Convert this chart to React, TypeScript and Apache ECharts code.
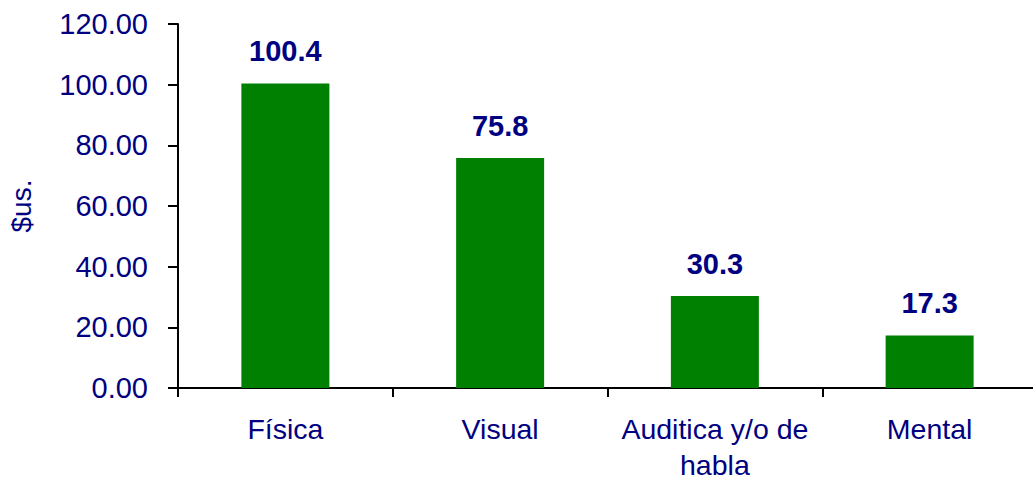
import React, { useEffect, useRef } from "react";
import * as echarts from "echarts";

const categories = ["Física", "Visual", "Auditica y/o de\nhabla", "Mental"];
const values = [100.4, 75.8, 30.3, 17.3];
const yAxisName = "$us.";
const yMin = 0;
const yMax = 120;
const yInterval = 20;

const NAVY = "#000080";
const GREEN = "#008000";
const FONT = "'Liberation Sans', Arial, sans-serif";

export default function App() {
  const ref = useRef<HTMLDivElement>(null);
  useEffect(() => {
    if (!ref.current) return;
    const chart = echarts.init(ref.current, undefined, { renderer: "svg" });
    chart.setOption({
      animation: false,
      backgroundColor: "#ffffff",
      grid: { left: 178, right: -4, top: 24, bottom: 93, containLabel: false, outerBoundsMode: "none" },
      xAxis: {
        type: "category",
        data: categories,
        axisLine: { show: true, lineStyle: { color: "#000", width: 2 } },
        axisTick: { show: true, alignWithLabel: false, length: 9, lineStyle: { color: "#000", width: 2 } },
        axisLabel: {
          color: NAVY,
          fontFamily: FONT,
          fontSize: 28.5,
          lineHeight: 36,
          margin: 23,
          interval: 0,
        },
      },
      yAxis: {
        type: "value",
        min: yMin,
        max: yMax,
        interval: yInterval,
        name: yAxisName,
        nameLocation: "middle",
        nameRotate: 90,
        nameGap: 143,
        nameTextStyle: { color: NAVY, fontFamily: FONT, fontSize: 28 },
        splitLine: { show: false },
        axisLine: { show: true, lineStyle: { color: "#000", width: 2 } },
        axisTick: { show: true, length: 10, lineStyle: { color: "#000", width: 2 } },
        axisLabel: {
          color: NAVY,
          fontFamily: FONT,
          fontSize: 29,
          margin: 30,
          formatter: (v: number) => v.toFixed(2),
        },
      },
      series: [
        {
          type: "bar",
          data: values,
          barWidth: 88,
          itemStyle: { color: GREEN },
          label: {
            show: true,
            position: "top",
            distance: 18,
            color: NAVY,
            fontFamily: FONT,
            fontSize: 29,
            fontWeight: "bold",
            formatter: (p: any) => p.value.toFixed(1),
          },
        },
      ],
    });
    return () => chart.dispose();
  }, []);
  return (
    <div
      ref={ref}
      style={{ position: "fixed", left: 0, top: 0, width: 1033, height: 481 }}
    />
  );
}
